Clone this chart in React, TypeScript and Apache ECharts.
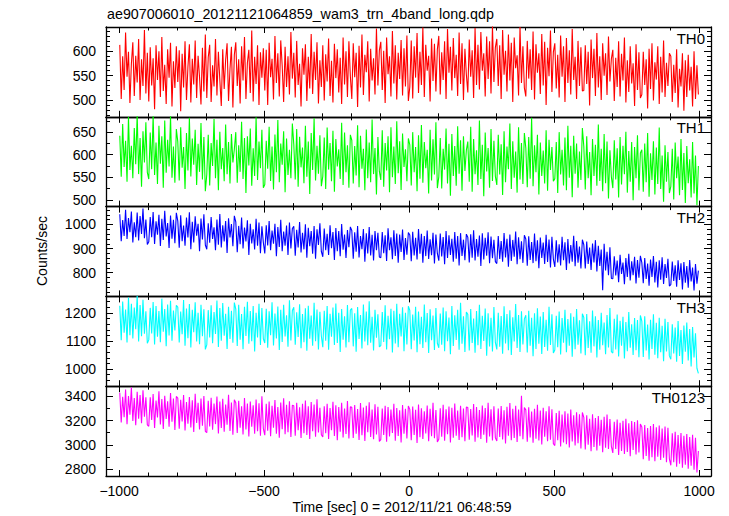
import React, { useEffect, useRef } from "react";
import * as echarts from "echarts";

// ---- data ----
const TITLE = "ae907006010_20121121064859_wam3_trn_4band_long.qdp";
const X_NAME = "Time [sec] 0 = 2012/11/21 06:48:59";
const Y_NAME = "Counts/sec";
const PANEL_NAMES = ["TH0", "TH1", "TH2", "TH3", "TH0123"];

const TIME_START = -997.5;
const TIME_STEP = 5;

const X_MAJOR = [-1000, -500, 0, 500, 1000];
const X_MINOR = [-1000, -900, -800, -700, -600, -500, -400, -300, -200, -100, 0, 100, 200, 300, 400, 500, 600, 700, 800, 900, 1000];

const TH0 = [
  612, 503, 589, 521, 637, 548, 598, 495, 574, 617, 509, 590, 536, 624, 501, 583, 529, 642, 514, 596,
  498, 607, 530, 585, 482, 611, 541, 599, 507, 628, 519, 572, 493, 603, 546, 616, 488, 579, 525, 609,
  537, 601, 478, 594, 526, 619, 501, 568, 613, 496, 584, 532, 621, 505, 590, 547, 492, 606, 518, 633,
  505, 587, 612, 497, 571, 528, 624, 510, 598, 541, 489, 603, 523, 582, 615, 499, 564, 608, 486, 592,
  617, 529, 583, 494, 609, 540, 628, 503, 576, 602, 515, 641, 498, 588, 533, 611, 491, 597, 546, 605,
  520, 602, 491, 616, 547, 584, 502, 630, 535, 595, 508, 621, 570, 497, 608, 527, 589, 512, 638, 544,
  596, 506, 620, 531, 574, 488, 605, 552, 613, 499, 588, 524, 634, 513, 598, 541, 617, 494, 581, 527,
  611, 500, 593, 538, 625, 509, 580, 496, 614, 545, 603, 516, 586, 493, 627, 532, 599, 507, 619, 549,
  503, 615, 547, 596, 487, 610, 526, 633, 511, 592, 557, 619, 498, 604, 540, 585, 512, 645, 530, 601,
  618, 521, 600, 495, 627, 553, 589, 508, 640, 534, 611, 502, 596, 543, 622, 510, 605, 528, 631, 499,
  527, 621, 504, 609, 546, 636, 515, 598, 531, 647, 507, 612, 560, 590, 498, 625, 539, 614, 518, 603,
  630, 512, 597, 541, 619, 503, 644, 556, 608, 520, 626, 545, 592, 509, 637, 533, 615, 501, 604, 552,
  516, 623, 548, 601, 505, 646, 531, 612, 522, 638, 560, 595, 508, 629, 543, 619, 514, 650, 537, 607,
  624, 529, 611, 503, 642, 552, 600, 518, 633, 540, 616, 497, 627, 565, 591, 510, 648, 535, 609, 525,
  508, 620, 544, 603, 521, 639, 502, 613, 556, 595, 513, 634, 530, 618, 491, 606, 549, 641, 517, 598,
  615, 524, 592, 506, 631, 548, 609, 497, 626, 535, 601, 512, 644, 541, 588, 503, 620, 529, 607, 519,
  520, 611, 533, 598, 490, 623, 545, 604, 509, 636, 526, 589, 501, 615, 550, 595, 511, 629, 538, 584,
  602, 499, 586, 527, 619, 508, 594, 540, 627, 496, 581, 517, 609, 534, 575, 489, 613, 521, 597, 505,
  512, 598, 531, 583, 484, 604, 523, 615, 500, 577, 542, 609, 493, 588, 516, 621, 507, 576, 529, 595,
  589, 497, 572, 515, 603, 486, 564, 528, 595, 479, 581, 507, 592, 520, 568, 488, 599, 503, 571, 512,
];
const TH1 = [
  642, 551, 668, 573, 631, 540, 684, 566, 620, 548, 659, 579, 690, 557, 637, 529, 652, 583, 672, 561,
  546, 649, 568, 688, 555, 627, 535, 664, 580, 641, 527, 676, 560, 633, 574, 686, 549, 618, 538, 657,
  629, 543, 661, 571, 617, 524, 648, 565, 682, 552, 636, 578, 655, 533, 624, 562, 670, 545, 639, 519,
  556, 644, 532, 626, 575, 679, 548, 633, 521, 651, 568, 615, 541, 667, 557, 628, 536, 646, 583, 612,
  650, 538, 621, 562, 673, 546, 637, 515, 641, 576, 658, 531, 614, 553, 683, 544, 629, 570, 655, 527,
  534, 631, 569, 662, 542, 618, 523, 645, 561, 677, 539, 625, 578, 652, 517, 636, 555, 611, 548, 669,
  623, 545, 657, 529, 640, 572, 616, 537, 664, 551, 629, 513, 648, 566, 681, 543, 620, 558, 643, 530,
  552, 638, 524, 660, 567, 626, 541, 653, 518, 635, 574, 612, 546, 671, 533, 649, 561, 621, 527, 644,
  632, 536, 619, 554, 665, 528, 642, 569, 613, 521, 656, 548, 627, 539, 678, 557, 615, 512, 639, 563,
  544, 654, 529, 626, 565, 641, 517, 661, 550, 618, 535, 674, 559, 630, 522, 647, 573, 612, 541, 636,
  622, 532, 650, 561, 617, 519, 643, 547, 666, 538, 628, 570, 611, 514, 655, 543, 634, 556, 672, 526,
  551, 637, 525, 613, 567, 658, 536, 624, 509, 646, 553, 619, 531, 663, 558, 632, 520, 641, 564, 610,
  629, 540, 662, 518, 635, 557, 610, 533, 676, 546, 622, 508, 649, 563, 615, 527, 657, 542, 631, 552,
  533, 644, 556, 623, 511, 652, 539, 618, 568, 669, 524, 630, 549, 607, 516, 661, 545, 626, 535, 648,
  615, 528, 639, 547, 682, 530, 621, 561, 644, 512, 627, 553, 609, 536, 654, 520, 633, 566, 617, 541,
  547, 628, 515, 650, 556, 611, 532, 638, 521, 664, 549, 620, 506, 642, 558, 625, 527, 607, 544, 659,
  618, 523, 641, 548, 606, 510, 635, 553, 622, 531, 667, 542, 613, 519, 646, 537, 629, 503, 610, 551,
  526, 632, 545, 614, 505, 639, 534, 620, 557, 651, 516, 608, 540, 628, 499, 617, 548, 643, 521, 604,
  611, 518, 625, 539, 648, 507, 603, 544, 630, 512, 616, 535, 660, 524, 598, 496, 621, 540, 606, 515,
  530, 613, 501, 627, 548, 596, 510, 635, 522, 604, 493, 619, 537, 590, 505, 628, 514, 598, 488, 575,
];
const TH2 = [
  1042, 931, 1018, 952, 1061, 940, 1027, 968, 1054, 925, 1009, 947, 1049, 934, 1035, 961, 1066, 943, 1020, 917,
  928, 1031, 947, 1052, 919, 1013, 958, 1040, 911, 1024, 936, 1057, 950, 1006, 903, 1037, 941, 1019, 922, 1048,
  1015, 904, 1038, 931, 996, 912, 1029, 946, 1050, 897, 1011, 925, 1034, 953, 1003, 889, 1025, 938, 1042, 915,
  897, 1005, 924, 1031, 940, 988, 893, 1020, 916, 1043, 905, 997, 930, 1014, 882, 1026, 946, 1002, 910, 1036,
  1011, 885, 994, 918, 1029, 901, 987, 930, 1017, 874, 1003, 921, 980, 896, 1024, 912, 1008, 881, 992, 926,
  880, 997, 913, 1014, 893, 975, 920, 1003, 868, 989, 907, 1019, 889, 971, 912, 996, 874, 1008, 901, 983,
  992, 871, 978, 905, 1010, 884, 965, 897, 1001, 862, 986, 910, 973, 879, 994, 858, 980, 915, 1005, 888,
  866, 983, 893, 961, 874, 997, 902, 969, 853, 985, 889, 973, 868, 1002, 895, 958, 861, 977, 906, 990,
  975, 858, 968, 887, 994, 863, 952, 898, 981, 846, 963, 880, 989, 872, 957, 851, 973, 893, 966, 865,
  862, 969, 881, 955, 849, 984, 893, 947, 856, 976, 870, 962, 841, 958, 886, 979, 853, 944, 875, 967,
  956, 848, 970, 872, 945, 855, 981, 879, 961, 842, 952, 869, 975, 857, 939, 873, 966, 838, 958, 880,
  850, 962, 867, 948, 835, 973, 861, 955, 874, 941, 846, 969, 858, 952, 830, 964, 870, 937, 852, 960,
  947, 843, 959, 862, 976, 851, 940, 866, 954, 828, 963, 855, 945, 871, 968, 839, 950, 860, 937, 846,
  838, 952, 857, 931, 846, 965, 863, 941, 825, 958, 849, 936, 866, 971, 835, 947, 856, 930, 841, 955,
  940, 829, 951, 853, 927, 840, 962, 848, 934, 819, 946, 861, 925, 836, 957, 845, 938, 822, 949, 856,
  824, 934, 843, 918, 830, 949, 852, 926, 811, 940, 838, 915, 846, 953, 827, 931, 842, 909, 818, 937,
  916, 818, 929, 836, 904, 812, 921, 843, 935, 805, 912, 828, 896, 728, 920, 809, 887, 790, 905, 776,
  775, 868, 789, 851, 761, 874, 795, 842, 752, 861, 783, 879, 768, 847, 790, 866, 756, 853, 779, 870,
  842, 757, 861, 774, 838, 746, 855, 783, 869, 760, 845, 739, 852, 771, 864, 754, 836, 778, 858, 745,
  751, 846, 766, 831, 742, 852, 770, 839, 731, 844, 759, 828, 738, 853, 764, 822, 727, 836, 755, 809,
];
const TH3 = [
  1226, 1103, 1241, 1130, 1212, 1095, 1255, 1121, 1233, 1109, 1219, 1142, 1262, 1098, 1228, 1117, 1247, 1126, 1206, 1092,
  1104, 1218, 1127, 1239, 1088, 1225, 1115, 1207, 1096, 1251, 1133, 1214, 1081, 1230, 1120, 1243, 1101, 1209, 1138, 1227,
  1221, 1095, 1205, 1124, 1246, 1083, 1216, 1110, 1232, 1077, 1211, 1131, 1238, 1098, 1201, 1089, 1229, 1117, 1213, 1070,
  1086, 1210, 1113, 1227, 1092, 1203, 1125, 1244, 1079, 1218, 1101, 1235, 1119, 1197, 1072, 1222, 1107, 1208, 1094, 1237,
  1214, 1082, 1229, 1105, 1196, 1071, 1222, 1118, 1240, 1090, 1207, 1099, 1225, 1063, 1201, 1113, 1233, 1086, 1218, 1108,
  1093, 1215, 1076, 1206, 1121, 1238, 1084, 1198, 1109, 1223, 1068, 1211, 1097, 1229, 1116, 1192, 1080, 1245, 1102, 1209,
  1220, 1087, 1202, 1114, 1231, 1074, 1196, 1096, 1217, 1065, 1226, 1108, 1191, 1083, 1236, 1099, 1212, 1070, 1204, 1118,
  1078, 1208, 1101, 1225, 1069, 1197, 1115, 1219, 1086, 1234, 1093, 1201, 1061, 1214, 1105, 1188, 1077, 1228, 1096, 1210,
  1216, 1081, 1199, 1062, 1221, 1107, 1193, 1073, 1230, 1098, 1205, 1085, 1242, 1094, 1186, 1066, 1211, 1112, 1195, 1079,
  1084, 1203, 1097, 1227, 1070, 1190, 1106, 1215, 1059, 1208, 1091, 1233, 1078, 1197, 1116, 1220, 1064, 1201, 1088, 1224,
  1209, 1071, 1194, 1102, 1222, 1060, 1205, 1089, 1186, 1075, 1230, 1096, 1200, 1057, 1213, 1103, 1191, 1068, 1218, 1092,
  1076, 1198, 1087, 1219, 1064, 1206, 1099, 1184, 1053, 1225, 1082, 1192, 1104, 1211, 1069, 1236, 1090, 1188, 1061, 1203,
  1195, 1066, 1214, 1093, 1180, 1058, 1207, 1085, 1229, 1072, 1190, 1100, 1216, 1048, 1199, 1081, 1183, 1063, 1221, 1095,
  1070, 1201, 1080, 1189, 1055, 1224, 1091, 1196, 1067, 1210, 1050, 1185, 1098, 1232, 1075, 1193, 1061, 1206, 1088, 1179,
  1192, 1059, 1208, 1083, 1183, 1046, 1199, 1072, 1217, 1090, 1187, 1054, 1203, 1079, 1176, 1065, 1222, 1086, 1195, 1057,
  1068, 1190, 1078, 1205, 1052, 1182, 1094, 1211, 1060, 1178, 1083, 1199, 1044, 1186, 1071, 1214, 1087, 1174, 1056, 1197,
  1184, 1049, 1196, 1075, 1170, 1058, 1209, 1081, 1188, 1041, 1175, 1069, 1201, 1085, 1166, 1053, 1193, 1077, 1218, 1062,
  1057, 1179, 1070, 1194, 1045, 1172, 1083, 1186, 1038, 1168, 1064, 1203, 1076, 1160, 1050, 1182, 1067, 1175, 1042, 1191,
  1171, 1043, 1188, 1066, 1159, 1034, 1176, 1072, 1195, 1051, 1165, 1039, 1183, 1060, 1154, 1028, 1179, 1063, 1168, 1047,
  1035, 1160, 1056, 1148, 1026, 1171, 1047, 1139, 1018, 1155, 1062, 1166, 1031, 1143, 1009, 1150, 1041, 1128, 1003, 985,
];
const TH0123 = [
  3428, 3185, 3396, 3227, 3455, 3170, 3402, 3248, 3471, 3196, 3385, 3162, 3437, 3215, 3410, 3178, 3448, 3232, 3391, 3165,
  3153, 3392, 3205, 3418, 3140, 3365, 3226, 3441, 3168, 3377, 3131, 3403, 3214, 3359, 3149, 3426, 3190, 3381, 3122, 3398,
  3385, 3134, 3371, 3192, 3409, 3118, 3352, 3175, 3393, 3143, 3366, 3106, 3420, 3181, 3345, 3127, 3381, 3158, 3402, 3112,
  3101, 3363, 3152, 3388, 3124, 3340, 3171, 3397, 3093, 3356, 3140, 3379, 3109, 3331, 3165, 3412, 3115, 3349, 3083, 3371,
  3347, 3098, 3362, 3141, 3318, 3085, 3385, 3127, 3339, 3069, 3356, 3150, 3325, 3092, 3373, 3113, 3341, 3076, 3399, 3134,
  3080, 3337, 3116, 3356, 3072, 3321, 3142, 3368, 3091, 3312, 3060, 3349, 3128, 3383, 3087, 3330, 3104, 3359, 3066, 3325,
  3322, 3075, 3346, 3120, 3309, 3058, 3338, 3097, 3364, 3081, 3317, 3049, 3352, 3113, 3331, 3068, 3374, 3102, 3305, 3084,
  3065, 3318, 3096, 3337, 3048, 3302, 3121, 3355, 3074, 3326, 3039, 3311, 3108, 3345, 3061, 3299, 3089, 3360, 3052, 3314,
  3309, 3057, 3328, 3092, 3295, 3040, 3343, 3079, 3306, 3033, 3321, 3104, 3351, 3066, 3290, 3047, 3334, 3086, 3314, 3029,
  3044, 3298, 3082, 3322, 3027, 3311, 3069, 3290, 3098, 3338, 3035, 3303, 3074, 3284, 3021, 3327, 3091, 3296, 3052, 3319,
  3292, 3038, 3315, 3081, 3289, 3016, 3331, 3063, 3301, 3049, 3277, 3095, 3324, 3031, 3297, 3072, 3346, 3055, 3286, 3025,
  3047, 3301, 3068, 3329, 3034, 3292, 3087, 3316, 3021, 3305, 3059, 3340, 3076, 3283, 3040, 3321, 3064, 3298, 3030, 3312,
  3308, 3042, 3295, 3077, 3336, 3026, 3311, 3061, 3287, 3049, 3324, 3083, 3302, 3018, 3347, 3070, 3293, 3037, 3318, 3058,
  3033, 3299, 3066, 3320, 3045, 3285, 3012, 3313, 3075, 3343, 3039, 3296, 3058, 3322, 3024, 3291, 3071, 3404, 3047, 3306,
  3288, 3027, 3310, 3062, 3274, 3018, 3296, 3051, 3329, 3036, 3283, 3004, 3305, 3068, 3277, 3031, 3318, 3043, 3292, 3010,
  2995, 3262, 3038, 3281, 2987, 3249, 3021, 3277, 3006, 3258, 2979, 3290, 3029, 3243, 2996, 3269, 3013, 3251, 2970, 3266,
  3226, 2962, 3243, 3001, 3215, 2948, 3251, 2984, 3220, 2955, 3238, 2993, 3207, 2941, 3232, 2977, 3249, 2966, 3213, 2989,
  2934, 3191, 2966, 3208, 2917, 3182, 2951, 3199, 2926, 3214, 2943, 3177, 2908, 3196, 2959, 3187, 2921, 3203, 2938, 3172,
  3148, 2882, 3163, 2910, 3139, 2871, 3156, 2899, 3171, 2866, 3144, 2903, 3160, 2877, 3135, 2894, 3152, 2858, 3141, 2886,
  2833, 3095, 2859, 3108, 2821, 3082, 2846, 3097, 2812, 3076, 2838, 3090, 2805, 3065, 2829, 3084, 2796, 3058, 2774, 2950,
];

const Y_MAJOR = [
  [500, 550, 600],
  [500, 550, 600, 650],
  [800, 900, 1000],
  [1000, 1100, 1200],
  [2800, 3000, 3200, 3400],
];
const Y_MINOR = [
  [470, 480, 490, 500, 510, 520, 530, 540, 550, 560, 570, 580, 590, 600, 610, 620, 630, 640],
  [500, 525, 550, 575, 600, 625, 650, 675],
  [720, 740, 760, 780, 800, 820, 840, 860, 880, 900, 920, 940, 960, 980, 1000, 1020, 1040, 1060],
  [940, 960, 980, 1000, 1020, 1040, 1060, 1080, 1100, 1120, 1140, 1160, 1180, 1200, 1220, 1240],
  [2800, 2900, 3000, 3100, 3200, 3300, 3400],
];
const Y_RANGES = [
  [467, 648],
  [485, 684],
  [702, 1074],
  [939, 1259],
  [2745, 3482],
];
const SERIES_VALUES = [TH0, TH1, TH2, TH3, TH0123];
const COLORS = ["#ff0000", "#00ff00", "#0000ff", "#00ffff", "#ff00ff"];

// ---- layout ----
const X_MIN = -1045;
const X_MAX = 1041;
const GRID_LEFT = 106;
const GRID_WIDTH = 605;
const GRID_TOP = 27;
const PANEL_H = 89.8;
const FONT = '"Liberation Sans", Arial, Helvetica, sans-serif';
const FRAME = { color: "#000", width: 1.3 };

function buildOption() {
  const grid: any[] = [];
  const xAxis: any[] = [];
  const yAxis: any[] = [];
  const series: any[] = [];
  const graphic: any[] = [];
  const nPanels = SERIES_VALUES.length;
  const times = SERIES_VALUES[0].map((_, k) => TIME_START + TIME_STEP * k);
  const fmt = (v: number) => String(v).replace("-", "\u2212");

  for (let i = 0; i < nPanels; i++) {
    const top = GRID_TOP + i * PANEL_H;
    grid.push({ left: GRID_LEFT, width: GRID_WIDTH, top, height: PANEL_H });
    const isLast = i === nPanels - 1;
    const xBase = {
      type: "value",
      gridIndex: i,
      min: X_MIN,
      max: X_MAX,
      splitLine: { show: false },
    };
    for (const pos of ["bottom", "top"]) {
      xAxis.push({
        ...xBase,
        position: pos,
        axisLine: { show: true, onZero: false, lineStyle: FRAME },
        axisTick: { show: true, inside: true, length: 6, customValues: X_MAJOR, lineStyle: { color: "#000", width: 1 } },
        axisLabel: {
          show: isLast && pos === "bottom",
          customValues: X_MAJOR,
          formatter: fmt,
          fontSize: 14,
          color: "#000",
          fontFamily: FONT,
          margin: 8,
        },
      });
      xAxis.push({
        ...xBase,
        position: pos,
        axisLine: { show: false, onZero: false },
        axisTick: { show: true, inside: true, length: 3.5, customValues: X_MINOR, lineStyle: { color: "#000", width: 1 } },
        axisLabel: { show: false },
      });
    }
    const [yMin, yMax] = Y_RANGES[i];
    const yBase = {
      type: "value",
      gridIndex: i,
      min: yMin,
      max: yMax,
      splitLine: { show: false },
    };
    for (const pos of ["left", "right"]) {
      yAxis.push({
        ...yBase,
        position: pos,
        axisLine: { show: true, onZero: false, lineStyle: FRAME },
        axisTick: { show: true, inside: true, length: 7, customValues: Y_MAJOR[i], lineStyle: { color: "#000", width: 1 } },
        axisLabel: {
          show: pos === "left",
          customValues: Y_MAJOR[i],
          formatter: (v: number) => String(v),
          fontSize: 14,
          color: "#000",
          fontFamily: FONT,
          margin: 10,
        },
      });
      yAxis.push({
        ...yBase,
        position: pos,
        axisLine: { show: false, onZero: false },
        axisTick: { show: true, inside: true, length: 4, customValues: Y_MINOR[i], lineStyle: { color: "#000", width: 1 } },
        axisLabel: { show: false },
      });
    }
    series.push({
      type: "line",
      name: PANEL_NAMES[i],
      xAxisIndex: 4 * i,
      yAxisIndex: 4 * i,
      data: times.map((t, k) => [t, SERIES_VALUES[i][k]]),
      showSymbol: false,
      symbol: "none",
      clip: true,
      silent: true,
      lineStyle: { color: COLORS[i], width: 1.1 },
    });
    graphic.push({
      type: "text",
      x: GRID_LEFT + GRID_WIDTH - 6,
      y: top + 11,
      style: {
        text: PANEL_NAMES[i],
        fill: "#000",
        font: `15px ${FONT}`,
        textAlign: "right",
        textVerticalAlign: "middle",
      },
      z: 100,
    });
  }

  graphic.push({
    type: "text",
    x: GRID_LEFT + 1,
    y: 14,
    style: { text: TITLE, fill: "#000", font: `14.3px ${FONT}`, textAlign: "left", textVerticalAlign: "middle" },
  });
  graphic.push({
    type: "text",
    x: 402,
    y: 507,
    style: { text: X_NAME, fill: "#000", font: `14px ${FONT}`, textAlign: "center", textVerticalAlign: "middle" },
  });
  graphic.push({
    type: "text",
    x: 42,
    y: 251,
    rotation: Math.PI / 2,
    style: { text: Y_NAME, fill: "#000", font: `14px ${FONT}`, textAlign: "center", textVerticalAlign: "middle" },
  });

  return {
    animation: false,
    backgroundColor: "#fff",
    grid,
    xAxis,
    yAxis,
    series,
    graphic,
  };
}

export default function App() {
  const ref = useRef<HTMLDivElement>(null);
  useEffect(() => {
    if (!ref.current) return;
    const chart = echarts.init(ref.current, undefined, { renderer: "svg" });
    chart.setOption(buildOption() as any);
    return () => chart.dispose();
  }, []);
  return (
    <div
      ref={ref}
      style={{ position: "fixed", left: 0, top: 0, width: 729, height: 516, background: "#fff" }}
    />
  );
}
